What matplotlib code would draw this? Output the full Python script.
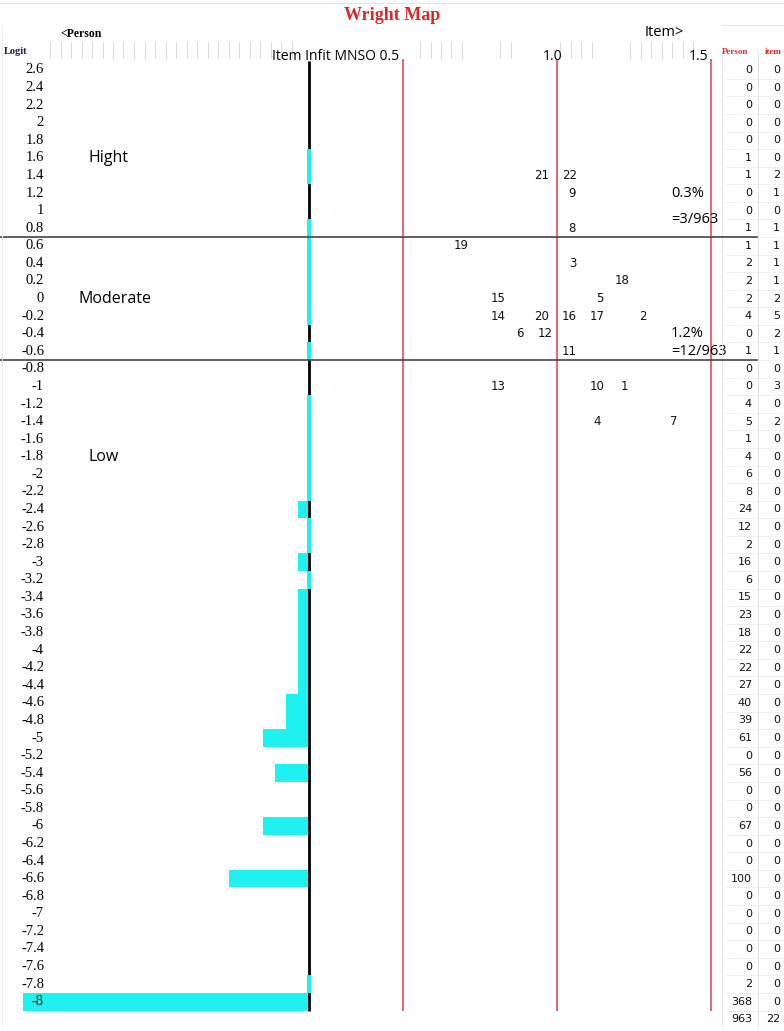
import numpy as np
import matplotlib.pyplot as plt
from matplotlib.lines import Line2D
from matplotlib.transforms import blended_transform_factory

# rows of the map (logit), top to bottom
logits = np.round(np.arange(2.6, -8.01, -0.2), 1) + 0.0
person_counts = np.array([0, 0, 0, 0, 0, 1, 1, 0, 0, 1,
                          1, 2, 2, 2, 4, 0, 1, 0, 0, 4,
                          5, 1, 4, 6, 8, 24, 12, 2, 16, 6,
                          15, 23, 18, 22, 22, 27, 40, 39, 61, 0,
                          56, 0, 0, 67, 0, 0, 100, 0, 0, 0,
                          0, 0, 2, 368])

# items: number, logit row, infit MNSQ
item_ids = [21, 22, 9, 8, 19, 3, 18, 15, 5, 14, 20, 16, 17, 2, 6, 12, 11, 13, 10, 1, 4, 7]
item_logit = [1.4, 1.4, 1.2, 0.8, 0.6, 0.4, 0.2, 0, 0, -0.2, -0.2, -0.2, -0.2, -0.2,
              -0.4, -0.4, -0.6, -1, -1, -1, -1.4, -1.4]
item_infit = [0.95, 1.04, 1.05, 1.05, 0.69, 1.05, 1.21, 0.81, 1.14, 0.81, 0.95, 1.04,
              1.13, 1.28, 0.88, 0.96, 1.04, 0.81, 1.13, 1.22, 1.13, 1.38]
infit_refs = [0.5, 1.0, 1.5]

# bands
cuts = [0.7, -0.7]
band_names = ['Hight', 'Moderate', 'Low']
band_rows = [1.6, 0.0, -1.8]
band_notes = [(1.2, '0.3%'), (0.9, '=3/963'), (-0.4, '1.2%'), (-0.6, '=12/963')]

W, H = 784, 1031
fig = plt.figure(figsize=(W / 100, H / 100), dpi=100)
fig.patch.set_facecolor('white')

cyan = '#1ff0f0'
red_line = '#e07070'
red_txt = '#d42a2a'

def fx(px):
    return px / W

def fy(py):
    return 1 - py / H

ylim = (-8.3, 2.8)
bot = fy(1028.1)
hgt = fy(52.4) - bot

ax_p = fig.add_axes([0, bot, fx(309), hgt])
ax_i = fig.add_axes([fx(309), bot, fx(411), hgt])
ax_t = fig.add_axes([fx(720), bot, fx(64), hgt])
for ax in (ax_p, ax_i, ax_t):
    ax.set_ylim(*ylim)
    ax.axis('off')
    ax.patch.set_alpha(0)

# person histogram (one block ~ 14 persons)
units = np.floor(person_counts / 14.2)
ax_p.set_xlim(-27, 0)
ax_p.vlines(0, -8.1, 2.7, color='black', lw=2, zorder=2, clip_on=False)
ax_p.barh(logits, units, left=-units, height=0.2, color=cyan, zorder=1)
few = (person_counts > 0) & (units == 0)
ax_p.barh(logits[few], 0.3, left=-0.15, height=0.2, color=cyan, zorder=3, clip_on=False)

tr_p = blended_transform_factory(ax_p.transAxes, ax_p.transData)
for v in logits:
    ax_p.text(44 / 309, v, f'{v:g}', transform=tr_p, ha='right', va='center',
              fontsize=10.5, family='Liberation Serif', color='black')
for name, r in zip(band_names, band_rows):
    ax_p.text(78 / 309 if name == 'Moderate' else 88 / 309, r, name, transform=tr_p,
              ha='left', va='center', fontsize=11.5, family='Open Sans')

# items by infit
ax_i.set_xlim(0.5 - 94 / 308, 1.5 + 9 / 308)
ax_i.vlines(infit_refs, -8.1, 2.72, color=red_line, lw=1.5, clip_on=False)
for n, lg, inf in zip(item_ids, item_logit, item_infit):
    ax_i.text(inf, lg, str(n), ha='center', va='center', fontsize=8.5,
              family='DejaVu Sans', color='#111111')
tr_i = blended_transform_factory(ax_i.transAxes, ax_i.transData)
for r, s in band_notes:
    ax_i.text(362 / 411, r, s, transform=tr_i, ha='left', va='center',
              fontsize=10.5, family='Open Sans')

# band boundaries
tr_f = blended_transform_factory(fig.transFigure, ax_p.transData)
for c in cuts:
    fig.add_artist(Line2D([0, fx(757)], [c, c], transform=tr_f, color='#444444', lw=1.2))

# count table on the right
item_counts = [sum(1 for lg in item_logit if abs(lg - v) < 1e-6) for v in logits]
tr_t = blended_transform_factory(ax_t.transAxes, ax_t.transData)
for v, pc, ic in zip(logits, person_counts, item_counts):
    ax_t.text(0.5, v, str(pc), transform=tr_t, ha='right', va='center', fontsize=8,
              family='DejaVu Sans', color='#111111')
    ax_t.text(0.94, v, str(ic), transform=tr_t, ha='right', va='center', fontsize=8,
              family='DejaVu Sans', color='#111111')
    ax_t.axhline(v - 0.1, xmin=0.1, xmax=1, color='#d0d0d0', lw=0.6, ls=':')
ax_t.text(0.5, -8.2, str(person_counts.sum()), transform=tr_t, ha='right', va='center',
          fontsize=8, family='DejaVu Sans', color='#111111')
ax_t.text(0.94, -8.2, str(len(item_ids)), transform=tr_t, ha='right', va='center',
          fontsize=8, family='DejaVu Sans', color='#111111')
ax_t.axvline(38 / 64, color='#dddddd', lw=0.6)
ax_t.axvline(2 / 64, color='#e4e4e4', lw=0.6)

# header decoration (spreadsheet ruler)
for x0, x1 in [(50, 300), (420, 470), (500, 516), (560, 600), (630, 700)]:
    for x in np.arange(x0, x1, 10.5):
        fig.add_artist(Line2D([fx(x), fx(x)], [fy(42), fy(58)], color='#dcdcdc', lw=0.8))
fig.add_artist(Line2D([0, 1], [fy(3), fy(3)], color='#e6e6e6', lw=0.8))
fig.add_artist(Line2D([fx(2), fx(2)], [fy(25), fy(1025)], color='#ececec', lw=0.8))
fig.add_artist(Line2D([fx(722), 1], [fy(25), fy(25)], color='#e6e6e6', lw=0.8))

# header texts
fig.text(0.5, fy(16), 'Wright Map', ha='center', va='center', fontsize=13,
         family='Liberation Serif', weight='bold', color=red_txt)
fig.text(fx(60), fy(34), '<Person', ha='left', va='center', fontsize=8.5,
         family='Liberation Serif', weight='bold')
fig.text(fx(645), fy(32), 'Item>', ha='left', va='center', fontsize=10.5, family='Open Sans')
fig.text(fx(4), fy(51), 'Logit', ha='left', va='center', fontsize=7.5,
         family='Liberation Serif', weight='bold', color='#1c1c5a')
fig.text(fx(272), fy(57), 'Item Infit MNSO 0.5', ha='left', va='center', fontsize=10,
         family='Open Sans')
fig.text(fx(553), fy(57), '1.0', ha='center', va='center', fontsize=10, family='Open Sans')
fig.text(fx(708), fy(57), '1.5', ha='right', va='center', fontsize=10, family='Open Sans')
fig.text(fx(722), fy(52), 'Person', ha='left', va='center', fontsize=6.5,
         family='Liberation Serif', weight='bold', color=red_txt)
fig.text(fx(782), fy(52), 'item', ha='right', va='center', fontsize=6.5,
         family='Liberation Serif', weight='bold', color=red_txt)

fig.savefig('out.png', dpi=100)
